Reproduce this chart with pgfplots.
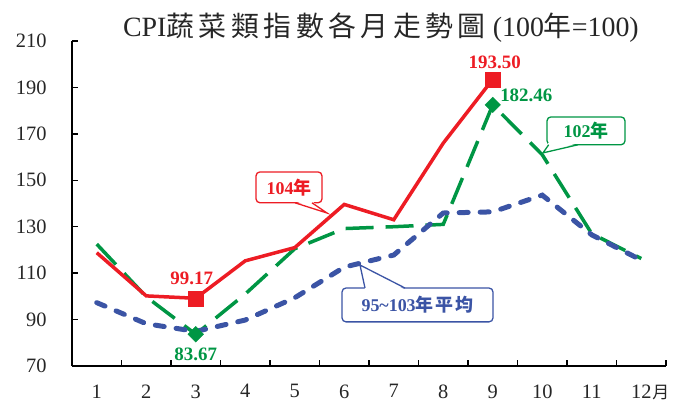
\documentclass[border=0pt]{standalone}
\usepackage{fontspec}
\setmainfont{Liberation Serif}
\newfontfamily\cjk{Noto Sans CJK TC}
\usepackage{pgfplots}
\usepackage{pgfplotstable}
\pgfplotsset{compat=1.18}
\definecolor{cred}{RGB}{237,28,36}
\definecolor{cgreen}{RGB}{0,150,68}
\definecolor{cblue}{RGB}{59,84,165}
\pgfplotstableread{
m v
1 118.8
2 100.2
3 99.17
4 115.3
5 121.0
6 139.6
7 133.0
8 166.0
9 193.50
}\redtab
\pgfplotstableread{
m v
1 122.5
2 99.8
3 83.67
4 101.0
5 120.5
6 129.2
7 130.0
8 131.0
9 182.46
10 161.0
11 127.0
12 116.3
}\greentab
\pgfplotstableread{
m v
1 97.3
2 88.2
3 84.9
4 89.8
5 99.4
6 112.6
7 117.8
8 135.9
9 136.4
10 143.6
11 126.5
12 115.6
}\bluetab
\newcommand\tsp{\hspace{4.5bp}}
\begin{document}
\begin{tikzpicture}
\begin{axis}[
  scale only axis, width=594bp, height=325bp,
  xmin=0.5, xmax=12.5, ymin=70, ymax=210,
  axis x line*=bottom, axis y line*=left,
  axis line style={line width=2.2bp, black},
  xtick={1,2,3,4,5,6,7,8,9,10,11,12},
  xticklabels={1,2,3,4,5,6,7,8,9,10,11,{12\rlap{\hspace{1bp}{\cjk\fontsize{17}{17}\selectfont 月}}}},
  minor xtick={1.5,2.5,3.5,4.5,5.5,6.5,7.5,8.5,9.5,10.5,11.5,12.5},
  major x tick style={draw=none},
  minor x tick style={line width=1.3bp, black},
  minor tick length=6bp,
  ytick={70,90,110,130,150,170,190,210},
  major tick length=6bp,
  y tick style={line width=1.3bp, black},
  tick align=inside,
  ticklabel style={font=\fontsize{20.5}{20.5}\selectfont, text=black!85},
  xticklabel style={yshift=-15bp},
  yticklabel style={xshift=-22bp},
  /pgf/number format/assume math mode=true,
  clip=false,
]
\addplot[cgreen, line width=3.5bp, dash pattern=on 28bp off 12bp] table[x=m,y=v]{\greentab};
\addplot[only marks, cgreen, mark=square*, mark size=5.5bp, mark options={rotate=45, solid}] coordinates {(3,83.67) (9,182.46)};
\addplot[cblue, line width=5bp, line cap=round, dash pattern=on 9bp off 12bp] table[x=m,y=v]{\bluetab};
\addplot[cred, line width=3.5bp] table[x=m,y=v]{\redtab};
\addplot[only marks, cred, mark=square*, mark size=7.5bp] coordinates {(3,99.17) (9,193.5)};

% data labels
\node[text=cred, font=\bfseries\fontsize{19}{19}\selectfont] at (axis cs:3,99.17) [xshift=-4bp, yshift=20bp] {99.17};
\node[text=cgreen, font=\bfseries\fontsize{19}{19}\selectfont] at (axis cs:3,83.67) [yshift=-20bp] {83.67};
\node[text=cred, font=\bfseries\fontsize{19}{19}\selectfont] at (axis cs:9,193.5) [xshift=2bp, yshift=17bp] {193.50};
\node[text=cgreen, font=\bfseries\fontsize{19}{19}\selectfont, anchor=west] at (axis cs:9,182.46) [xshift=4bp, yshift=10bp] {182.46};

% callout 104
\draw[cred, line width=1.3bp, fill=white, rounded corners=4bp] (axis cs:4.217,140.3) rectangle (axis cs:5.551,153.6);
\fill[white] (axis cs:5.005,141) -- (axis cs:5.652,135.9) -- (axis cs:5.348,141) -- cycle;
\draw[cred, line width=1.3bp] (axis cs:5.005,140.3) -- (axis cs:5.652,135.9) -- (axis cs:5.348,140.3);
\node[text=cred, font=\bfseries\fontsize{18}{18}\selectfont] at (axis cs:4.884,146.9) {104{\cjk 年}};

% callout 102
\draw[cgreen, line width=1.3bp, fill=white, rounded corners=4bp] (axis cs:10.096,165.3) rectangle (axis cs:11.672,177.3);
\fill[white] (axis cs:10.116,166) -- (axis cs:10.015,161.8) -- (axis cs:10.722,166) -- cycle;
\draw[cgreen, line width=1.3bp] (axis cs:10.130,165.3) -- (axis cs:10.015,161.8) -- (axis cs:10.722,165.3);
\node[text=cgreen, font=\bfseries\fontsize{18}{18}\selectfont] at (axis cs:10.884,171.3) {102{\cjk 年}};

% callout blue
\draw[cblue, line width=1.3bp, fill=white, rounded corners=4bp] (axis cs:5.955,89.0) rectangle (axis cs:9.005,103.6);
\fill[white] (axis cs:6.419,102.9) -- (axis cs:6.318,113.5) -- (axis cs:7.227,102.9) -- cycle;
\draw[cblue, line width=1.3bp] (axis cs:6.419,103.6) -- (axis cs:6.318,113.5) -- (axis cs:7.227,103.6);
\node[text=cblue, font=\bfseries\fontsize{18}{18}\selectfont] at (axis cs:7.48,96.3) {95\textasciitilde 103{\cjk 年\hspace{2bp}平\hspace{2bp}均}};

% title
\node[font=\fontsize{28}{28}\selectfont, text=black!85] at (rel axis cs:0.52,1) [yshift=13bp] {CPI{\cjk 蔬\tsp 菜\tsp 類\tsp 指\tsp 數\tsp 各\tsp 月\tsp 走\tsp 勢\tsp 圖} (100{\cjk 年}=100)};
\end{axis}
\pgfresetboundingbox
\useasboundingbox (-72bp,-35bp) rectangle (603bp,366bp);
\end{tikzpicture}
\end{document}
